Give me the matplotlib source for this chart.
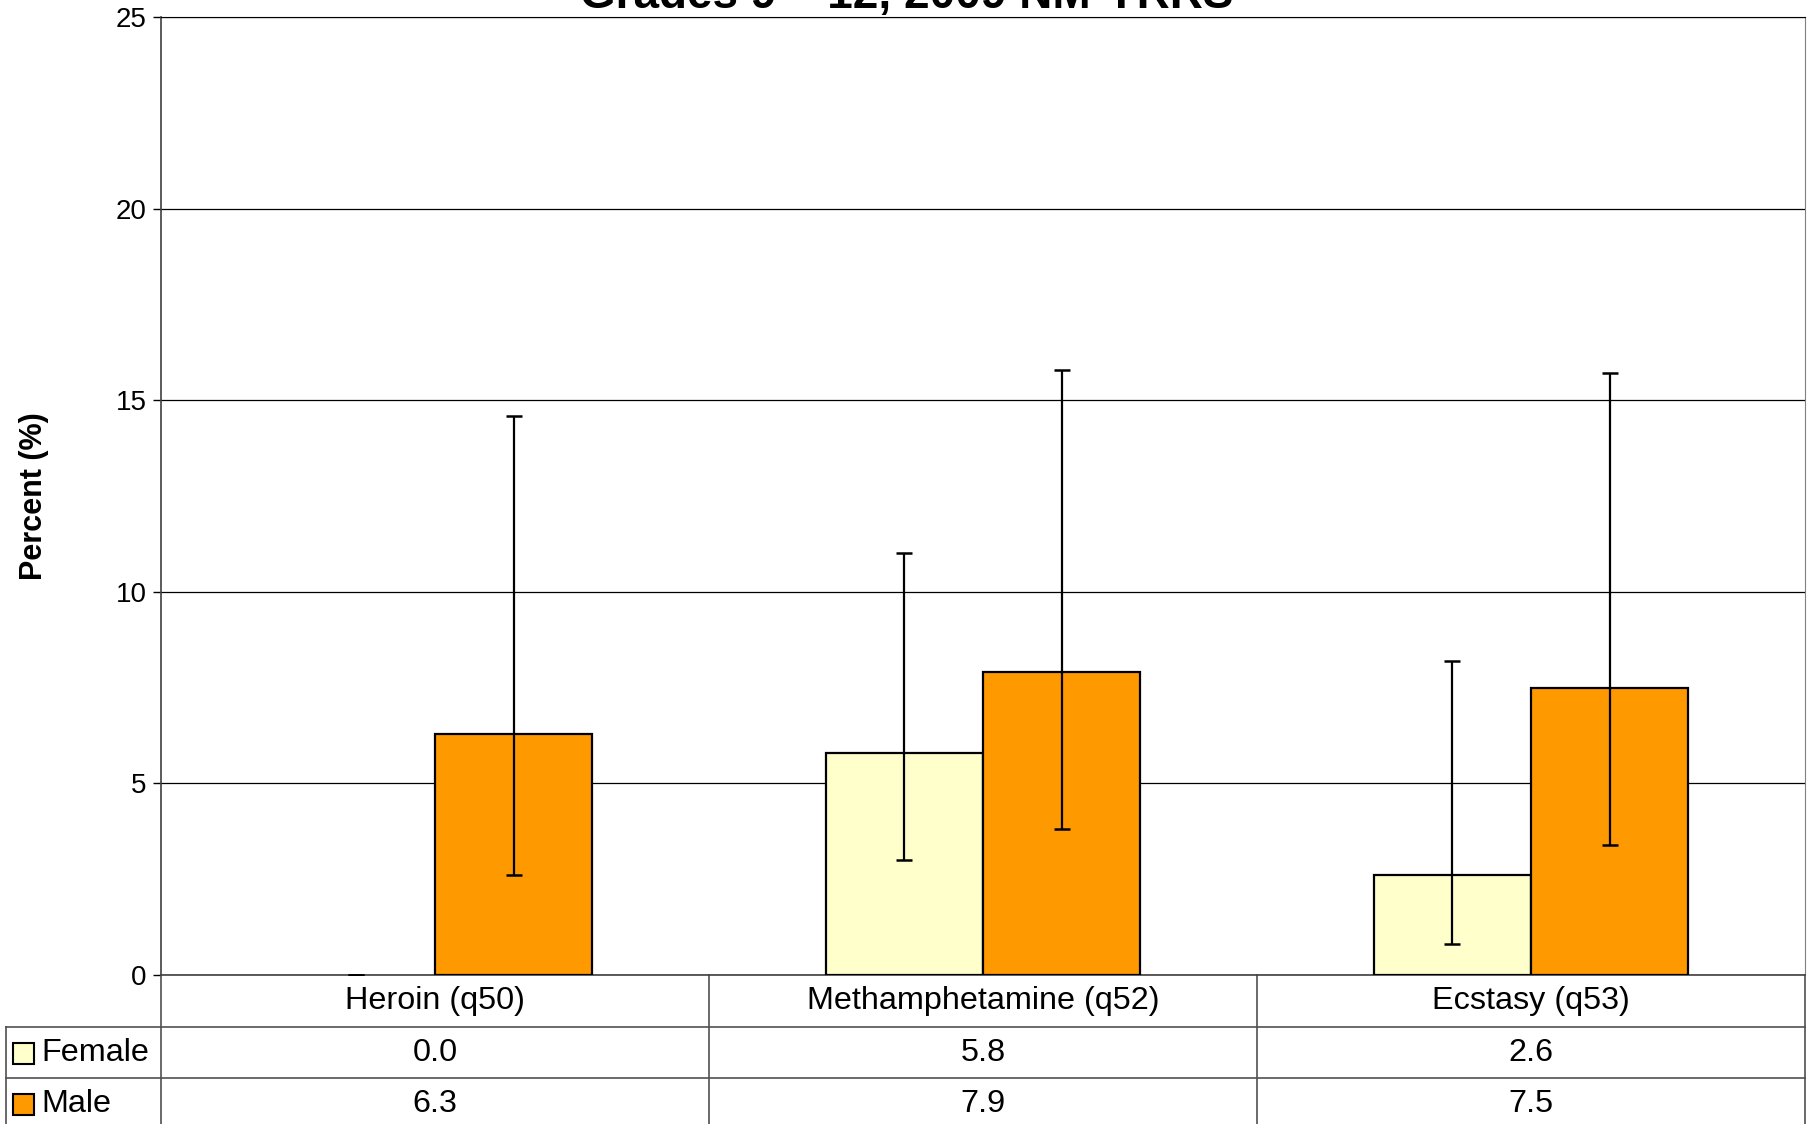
import matplotlib
matplotlib.use("Agg")
import matplotlib.pyplot as plt
import matplotlib.transforms as mtransforms
from matplotlib.patches import Rectangle
import numpy as np

plt.rcParams['font.family'] = ['Liberation Sans', 'DejaVu Sans']

categories = ["Heroin (q50)", "Methamphetamine (q52)", "Ecstasy (q53)"]
series_names = ["Female", "Male"]
female = [0.0, 5.8, 2.6]
male = [6.3, 7.9, 7.5]
female_lo = [0.0, 3.0, 0.8]
female_hi = [0.0, 11.0, 8.2]
male_lo = [2.6, 3.8, 3.4]
male_hi = [14.6, 15.8, 15.7]
yticks = [0, 5, 10, 15, 20, 25]

colors = ["#FFFFCC", "#FF9900"]

W, H = 1813, 1124
fig = plt.figure(figsize=(W / 100, H / 100), dpi=100)
ax = fig.add_axes([161 / W, 1 - 975 / H, (1805 - 161) / W, (975 - 17) / H])

x = np.arange(len(categories))
w = 0.287
vals = [female, male]
los = [female_lo, male_lo]
his = [female_hi, male_hi]
for i in range(2):
    pos = x + (i - 0.5) * w
    v = np.array(vals[i])
    yerr = [v - np.array(los[i]), np.array(his[i]) - v]
    lws = [1.6 if vv > 0 else 0 for vv in v]
    ax.bar(pos, v, width=w, color=colors[i], edgecolor="black", linewidth=lws, zorder=3)
    ax.errorbar(pos, v, yerr=yerr, fmt="none", ecolor="black", elinewidth=1.6,
                capsize=5.5, capthick=1.8, zorder=4)

ax.set_xlim(-0.5, 2.5)
ax.set_ylim(0, 25)
ax.set_yticks(yticks)
ax.set_xticks([])
ax.tick_params(axis="y", labelsize=20, length=6, width=1, pad=4.5, direction="out")
ax.yaxis.grid(True, color="black", linewidth=0.9, zorder=0)
ax.set_axisbelow(True)
ax.spines["top"].set_color("black")
ax.spines["right"].set_color("#808080")
ax.spines["left"].set_color("#404040")
ax.spines["bottom"].set_color("#404040")
ax.spines["left"].set_linewidth(1.2)
ax.spines["bottom"].set_linewidth(1.2)

fig.text(34 / W, 1 - 496 / H, "Percent (%)", rotation=90, ha="center", va="center",
         fontsize=22, fontweight="bold")

fig.text(0.5, 1 - 8 / H, "Grades 9 \u2013 12, 2009 NM-YRRS", ha="center", va="baseline",
         fontsize=33, fontweight="bold")

# data table below the axis
ah = 975 - 17
def ay(py):
    return -(py - 975) / ah

tr_dx = mtransforms.blended_transform_factory(ax.transData, ax.transAxes)
tr_fx = mtransforms.blended_transform_factory(fig.transFigure, ax.transAxes)
line_kw = dict(color="#505050", linewidth=1.2, clip_on=False)

y_bottom = ay(1140)
for b in [-0.5, 0.5, 1.5, 2.5]:
    ax.plot([b, b], [0, y_bottom], transform=tr_dx, **line_kw)
for py in [1027, 1078]:
    ax.plot([6 / W, 1805 / W], [ay(py), ay(py)], transform=tr_fx, **line_kw)
ax.plot([6 / W, 6 / W], [ay(1027), y_bottom], transform=tr_fx, **line_kw)

for xi, c in zip(x, categories):
    ax.text(xi, ay(1001), c, transform=tr_dx, ha="center", va="center", fontsize=23.3)

row_y = [ay(1053), ay(1104)]
for j in range(2):
    for xi, v in zip(x, vals[j]):
        ax.text(xi, row_y[j], f"{v:.1f}", transform=tr_dx, ha="center", va="center", fontsize=23.3)
    sq = 21
    ax.add_patch(Rectangle((13 / W, row_y[j] - (sq / 2) / ah), sq / W, sq / ah,
                           transform=tr_fx, facecolor=colors[j], edgecolor="black",
                           linewidth=1.5, clip_on=False))
    ax.text(41 / W, row_y[j], series_names[j], transform=tr_fx, ha="left", va="center", fontsize=23.3)

fig.savefig("out.png", dpi=100)
